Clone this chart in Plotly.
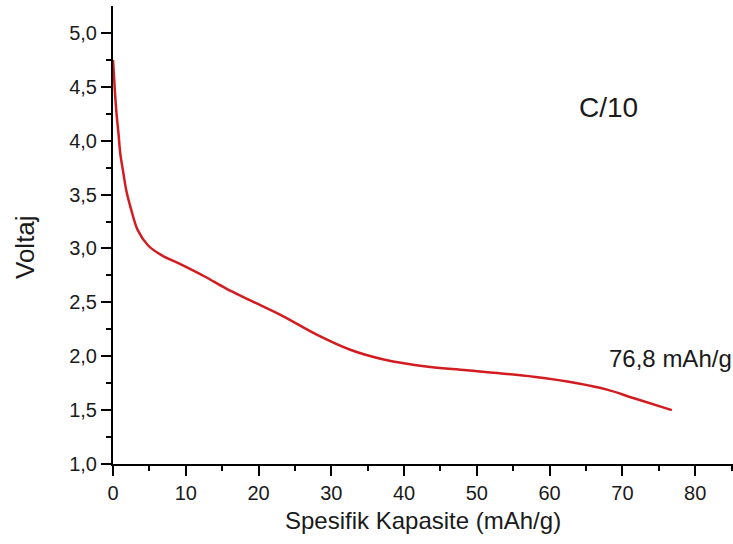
import plotly.graph_objects as go

capacity = [0, 0.12, 0.25, 0.5, 0.75, 1.0, 1.4, 1.85, 2.5, 3.4, 4.8, 6.6, 9.4,
            12.6, 15.5, 18.8, 23.4, 28.0, 32.6, 37.2, 43.6, 48.6, 57.8, 63.8,
            67.9, 71.6, 76.8]
voltage = [4.75, 4.62, 4.47, 4.24, 4.07, 3.88, 3.71, 3.53, 3.36, 3.17, 3.03, 2.94, 2.85,
           2.74, 2.63, 2.52, 2.37, 2.20, 2.06, 1.97, 1.90, 1.87, 1.81, 1.75,
           1.69, 1.61, 1.50]

x_ticks = [0, 10, 20, 30, 40, 50, 60, 70, 80]
y_ticks = [1.0, 1.5, 2.0, 2.5, 3.0, 3.5, 4.0, 4.5, 5.0]
x_minor = [5, 15, 25, 35, 45, 55, 65, 75, 85]
y_minor = [1.25, 1.75, 2.25, 2.75, 3.25, 3.75, 4.25, 4.75]

FONT = "Liberation Sans"
TXT = "#1a1a1a"

fig = go.Figure()
fig.add_trace(go.Scatter(
    x=capacity, y=voltage, mode="lines",
    line=dict(color="rgb(210,28,32)", width=2.5, shape="spline", smoothing=1.0),
    showlegend=False, hoverinfo="skip"))

fig.update_xaxes(
    range=[0, 85.2], tickmode="array", tickvals=x_ticks, ticktext=[str(v) for v in x_ticks],
    showline=True, linecolor="black", linewidth=2,
    ticks="outside", ticklen=10, tickwidth=2, tickcolor="black",
    showgrid=False, zeroline=False,
    tickfont=dict(family=FONT, size=20, color=TXT),
    minor=dict(ticks="outside", ticklen=5, tickwidth=2, tickcolor="black",
               tickmode="array", tickvals=x_minor, showgrid=False),
)
fig.update_yaxes(
    range=[1, 5.25], tickmode="array", tickvals=y_ticks,
    ticktext=[f"{v:.1f}".replace(".", ",") for v in y_ticks],
    showline=True, linecolor="black", linewidth=2,
    ticks="outside", ticklen=10, tickwidth=2, tickcolor="black",
    showgrid=False, zeroline=False,
    tickfont=dict(family=FONT, size=20, color=TXT),
    minor=dict(ticks="outside", ticklen=5, tickwidth=2, tickcolor="black",
               tickmode="array", tickvals=y_minor, showgrid=False),
)

L, T, B = 113, 6, 80
W, H = 733, 544
pw, ph = W - L, H - T - B

def px_to_paper(px, py):
    return (px - L) / pw, (H - B - py) / ph

tx, ty = px_to_paper(423, 520)
fig.add_annotation(text="Spesifik Kapasite (mAh/g)", x=tx, y=ty, xref="paper", yref="paper",
                   xanchor="center", yanchor="middle", showarrow=False,
                   font=dict(family=FONT, size=24, color=TXT))
vx, vy = px_to_paper(25, 247)
fig.add_annotation(text="Voltaj", x=vx, y=vy, xref="paper", yref="paper",
                   xanchor="center", yanchor="middle", showarrow=False, textangle=-90,
                   font=dict(family=FONT, size=26, color=TXT))
cx, cy = px_to_paper(577, 108)
fig.add_annotation(text="C/10", x=cx, y=cy, xref="paper", yref="paper",
                   xanchor="left", yanchor="middle", showarrow=False,
                   font=dict(family=FONT, size=28, color=TXT))
mx, my = px_to_paper(607, 358)
fig.add_annotation(text="76,8 mAh/g", x=mx, y=my, xref="paper", yref="paper",
                   xanchor="left", yanchor="middle", showarrow=False,
                   font=dict(family=FONT, size=24, color=TXT))

fig.update_layout(
    width=W, height=H,
    margin=dict(l=L, r=0, t=T, b=B),
    plot_bgcolor="white", paper_bgcolor="white",
)

fig.write_html("out.html")
